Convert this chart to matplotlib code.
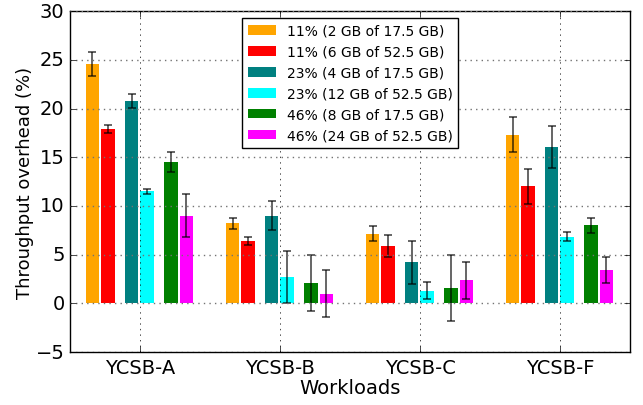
import matplotlib
matplotlib.use('Agg')
import matplotlib.pyplot as plt
import numpy as np

plt.style.use('classic')

workloads = ['YCSB-A', 'YCSB-B', 'YCSB-C', 'YCSB-F']
labels = ['11% (2 GB of 17.5 GB)', '11% (6 GB of 52.5 GB)',
          '23% (4 GB of 17.5 GB)', '23% (12 GB of 52.5 GB)',
          '46% (8 GB of 17.5 GB)', '46% (24 GB of 52.5 GB)']
colors = ['orange', 'red', 'teal', 'cyan', 'green', 'magenta']

# one row per config, one column per workload
means = [[24.6, 8.2, 7.15, 17.3],
         [17.9, 6.4, 5.9, 12.0],
         [20.8, 9.0, 4.2, 16.05],
         [11.5, 2.7, 1.3, 6.85],
         [14.5, 2.1, 1.6, 8.0],
         [9.0, 1.0, 2.35, 3.45]]
errors = [[1.25, 0.6, 0.8, 1.8],
          [0.4, 0.45, 1.15, 1.8],
          [0.7, 1.5, 2.2, 2.15],
          [0.25, 2.65, 0.85, 0.45],
          [1.0, 2.9, 3.4, 0.8],
          [2.2, 2.45, 1.9, 1.35]]

offsets = [-0.34, -0.23, -0.06, 0.05, 0.22, 0.33]
width = 0.095

fig, ax = plt.subplots(figsize=(6.43, 4.06), dpi=100)
fig.patch.set_facecolor('white')
fig.subplots_adjust(left=0.109, right=0.98, top=0.970, bottom=0.1305)

x = np.arange(len(workloads))
for i in range(len(labels)):
    ax.bar(x + offsets[i], means[i], width, yerr=errors[i], color=colors[i],
           edgecolor='none', align='center', label=labels[i],
           error_kw=dict(ecolor='k', alpha=0.7, capsize=3, capthick=1.2, elinewidth=1.2))

ax.set_xlim(-0.5, 3.5)
ax.set_ylim(-5, 30)
ax.set_xticks(x)
ax.set_xticklabels(workloads, fontsize=14)
ax.tick_params(axis='y', labelsize=14)
ax.set_xlabel('Workloads', fontsize=14, labelpad=1)
ax.set_ylabel('Throughput overhead (%)', fontsize=13, labelpad=1)
ax.xaxis.grid(True, color='k', linestyle=':')
ax.yaxis.grid(True, color='0.45', linestyle=':', linewidth=1.0)

ax.legend(loc='upper center', fontsize=10, ncol=1)

fig.savefig('out.png', dpi=100, facecolor='white')
